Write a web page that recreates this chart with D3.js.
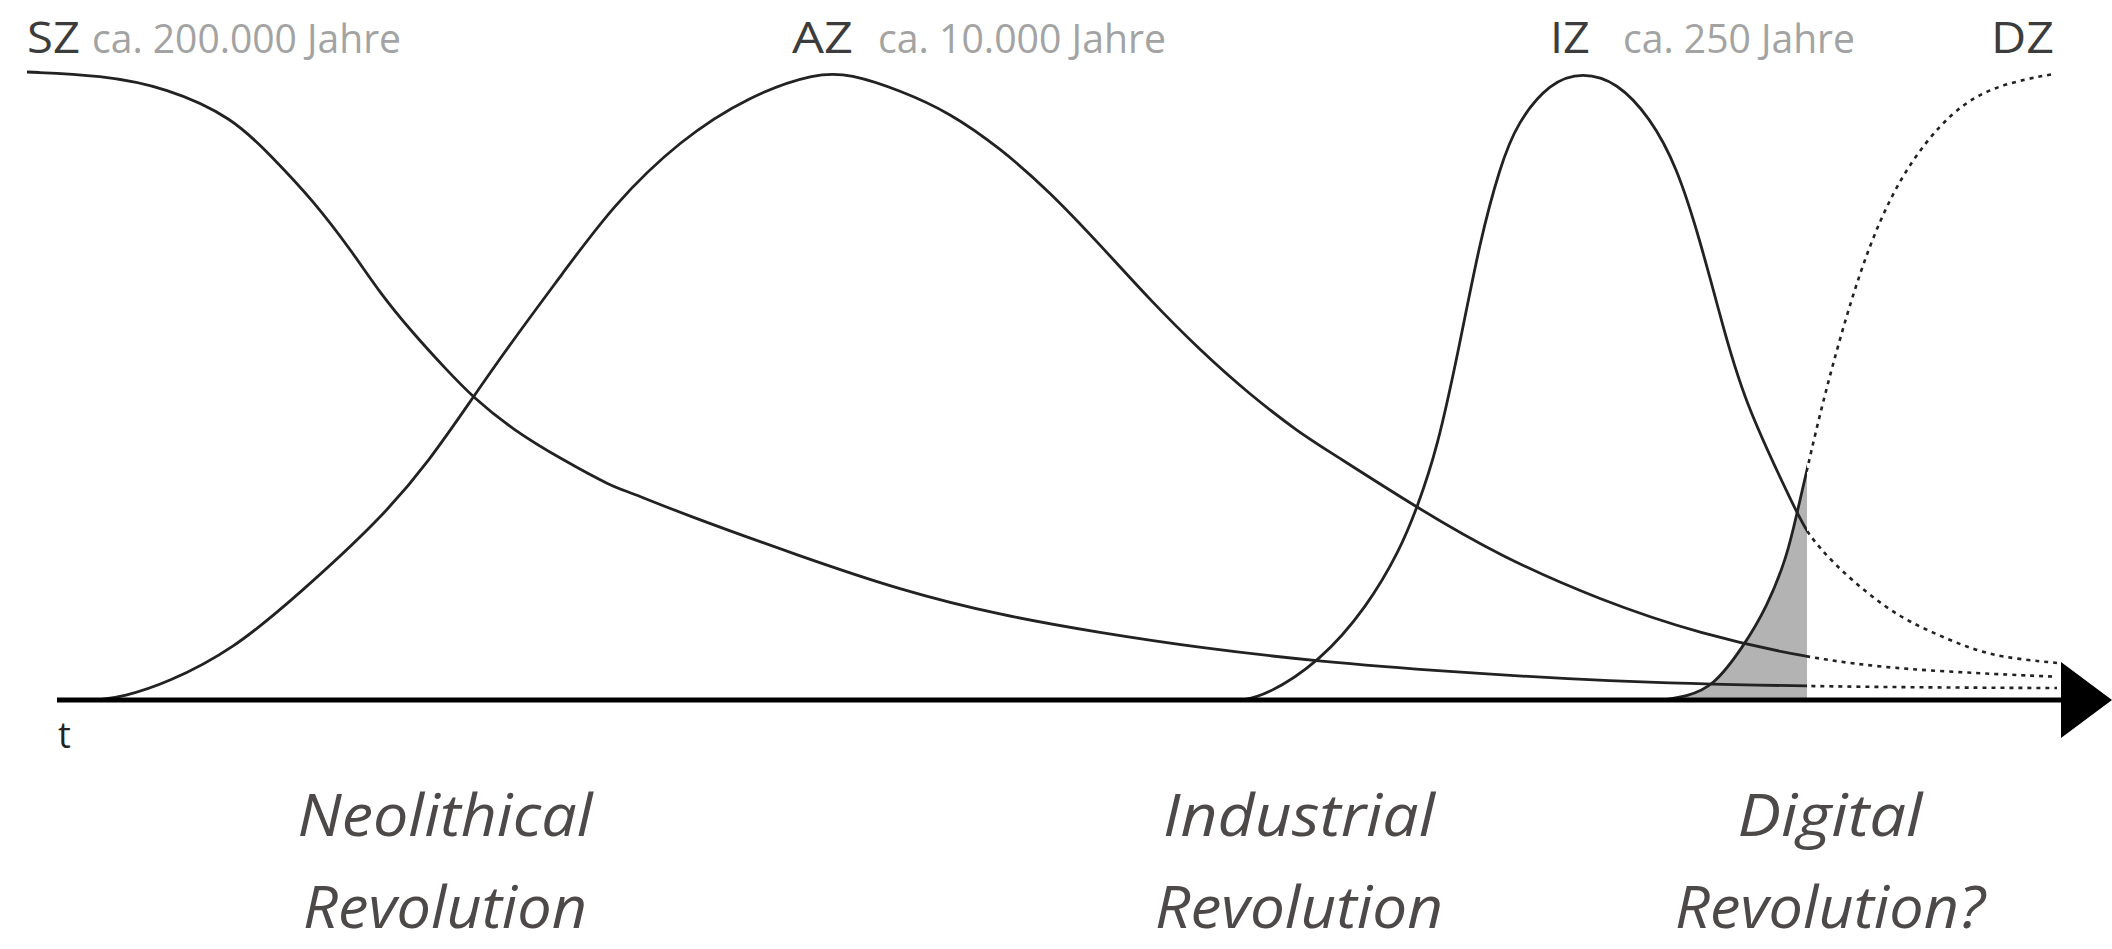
<!DOCTYPE html>
<html>
<head>
<meta charset="utf-8">
<script src="https://cdnjs.cloudflare.com/ajax/libs/d3/7.8.5/d3.min.js"></script>
<style>
  html, body { margin: 0; padding: 0; background: #fff; }
  svg { display: block; }
</style>
</head>
<body>
<div id="chart"></div>
<script>
// t = time (0..100, no unit), v = relative weight of the era (0..100)
var SZ = [[-1.5,100],[2.2,99.5],[5.5,97.5],[8.8,92.7],[10.65,86.8],[12.8,79.6],[14.8,71.2],
  [16.15,64.8],[17.8,58.4],[19.5,52.5],[20.8,48.2],[22.8,43.0],[25.3,38.2],[27.8,33.9],[28.65,33.1],
  [31.15,29.8],[37.15,22.9],[42.15,17.5],[47.15,13.5],[52.15,10.7],[57.15,8.3],[63.15,6.1],[69.65,4.5],
  [77.15,3.0],[87.5,2.1],[100,1.9]];
var AZ = [[2.0,0],[3.3,0.5],[5.5,2.7],[8.8,8.0],[12.15,17.0],[16.15,28.7],[18.65,38.2],[20.8,48.2],
  [22.8,57.3],[25.3,68.0],[27.8,78.8],[31.15,89.2],[34.65,96.3],[38.0,99.9],[39.65,99.7],[42.15,97.1],
  [44.65,93.5],[47.15,87.9],[49.65,80.9],[52.15,72.5],[54.65,63.7],[57.15,55.7],[59.65,48.6],[62.15,42.5],
  [63.5,39.8],[68.0,30.6],[72.15,22.9],[77.15,15.9],[82.15,10.5],[87.5,6.7],[92.15,4.8],[100,3.7]];
var IZ = [[59.2,0],[60.4,0.6],[63.15,6.1],[65.5,14.8],[67.15,23.9],[68.0,30.6],[69.0,39.8],[70.1,56.0],
  [71.15,73.2],[72.15,84.9],[73.0,91.9],[74.65,98.4],[76.3,100],[78.0,98.4],[79.65,92.8],[81.0,84.9],
  [82.15,73.2],[83.15,61.3],[84.3,47.8],[87.0,29.8],[87.5,26.6],[88.8,21.8],[90.5,17.0],[92.15,13.2],
  [93.8,10.7],[95.5,8.4],[97.15,6.8],[100,5.9]];
var DZ = [[80.3,0],[81.5,0.6],[82.8,2.1],[84.3,8.4],[85.5,14.8],[86.5,22.8],[87.0,29.8],[87.5,36.6],
  [88.3,47.8],[90.1,68.6],[92.1,83.6],[94.8,94.3],[97.15,98.1],[99.85,99.7]];

var eraNames = ["SZ", "AZ", "IZ", "DZ"];
var eraSpans = ["ca. 200.000 Jahre", "ca. 10.000 Jahre", "ca. 250 Jahre", ""];
var revLine1 = ["Neolithical", "Industrial", "Digital"];
var revLine2 = ["Revolution", "Revolution", "Revolution?"];
var todayT = 87.5;   // solid = past, dotted = projection

var width = 2112, height = 949;

var x = d3.scaleLinear().domain([0, 100]).range([57, 2057]);
var y = d3.scaleLinear().domain([0, 100]).range([700, 72]);

var svg = d3.select("#chart").append("svg")
    .attr("width", width)
    .attr("height", height);

var defs = svg.append("defs");
defs.append("clipPath").attr("id", "past")
  .append("rect").attr("x", 0).attr("y", 0).attr("width", x(todayT)).attr("height", height);
defs.append("clipPath").attr("id", "future")
  .append("rect").attr("x", x(todayT)).attr("y", 0).attr("width", width - x(todayT)).attr("height", height);

var line = d3.line()
    .x(function(d) { return x(d[0]); })
    .y(function(d) { return y(d[1]); })
    .curve(d3.curveBasis);

var area = d3.area()
    .x(function(d) { return x(d[0]); })
    .y0(y(0))
    .y1(function(d) { return y(d[1]); })
    .curve(d3.curveBasis);

// grey share of the digital era up to now
svg.append("path")
    .attr("d", area(DZ))
    .attr("clip-path", "url(#past)")
    .attr("fill", "#b3b3b3");

var series = [SZ, AZ, IZ, DZ];
series.forEach(function(s) {
  svg.append("path")
      .attr("d", line(s))
      .attr("clip-path", "url(#past)")
      .attr("fill", "none")
      .attr("stroke", "#222")
      .attr("stroke-width", 2.8);
  svg.append("path")
      .attr("d", line(s))
      .attr("clip-path", "url(#future)")
      .attr("fill", "none")
      .attr("stroke", "#222")
      .attr("stroke-width", 2.6)
      .attr("stroke-dasharray", "4,5");
});

// time axis with arrow
svg.append("line")
    .attr("x1", x(0)).attr("x2", x(100.5))
    .attr("y1", y(0)).attr("y2", y(0))
    .attr("stroke", "#000")
    .attr("stroke-width", 5);
svg.append("path")
    .attr("d", "M" + x(100.2) + "," + (y(0) - 38) + "L" + x(102.75) + "," + y(0) + "L" + x(100.2) + "," + (y(0) + 38) + "Z")
    .attr("fill", "#000");
svg.append("text")
    .attr("x", x(0) + 1).attr("y", 748)
    .attr("font-family", "'Open Sans', sans-serif")
    .attr("font-size", 36)
    .attr("fill", "#222")
    .text("t");

// era labels on top
var nameX = [27, 792, 1550, 1991], nameW = [53, 61, 40, 63];
var spanX = [92, 878, 1623], spanW = [309, 288, 232];
eraNames.forEach(function(n, i) {
  svg.append("text")
      .attr("x", nameX[i]).attr("y", 53)
      .attr("font-family", "'Open Sans', sans-serif")
      .attr("font-size", 44)
      .attr("fill", "#3c3c3c")
      .attr("textLength", nameW[i])
      .attr("lengthAdjust", "spacingAndGlyphs")
      .text(n);
  if (eraSpans[i]) {
    svg.append("text")
        .attr("x", spanX[i]).attr("y", 53)
        .attr("font-family", "'Open Sans', sans-serif")
        .attr("font-size", 40)
        .attr("fill", "#a3a3a3")
        .attr("textLength", spanW[i])
        .attr("lengthAdjust", "spacingAndGlyphs")
        .text(eraSpans[i]);
  }
});

// revolutions below the axis
var revX = [445, 1299, 1830], rev1W = [295, 272, 185], rev2W = [284, 288, 310];
revLine1.forEach(function(r, i) {
  svg.append("text")
      .attr("x", revX[i]).attr("y", 836)
      .attr("text-anchor", "middle")
      .attr("font-family", "'Open Sans', sans-serif")
      .attr("font-style", "italic")
      .attr("font-size", 59)
      .attr("fill", "#4d4948")
      .attr("textLength", rev1W[i])
      .attr("lengthAdjust", "spacingAndGlyphs")
      .text(r);
  svg.append("text")
      .attr("x", revX[i]).attr("y", 928)
      .attr("text-anchor", "middle")
      .attr("font-family", "'Open Sans', sans-serif")
      .attr("font-style", "italic")
      .attr("font-size", 59)
      .attr("fill", "#4d4948")
      .attr("textLength", rev2W[i])
      .attr("lengthAdjust", "spacingAndGlyphs")
      .text(revLine2[i]);
});
</script>
</body>
</html>
